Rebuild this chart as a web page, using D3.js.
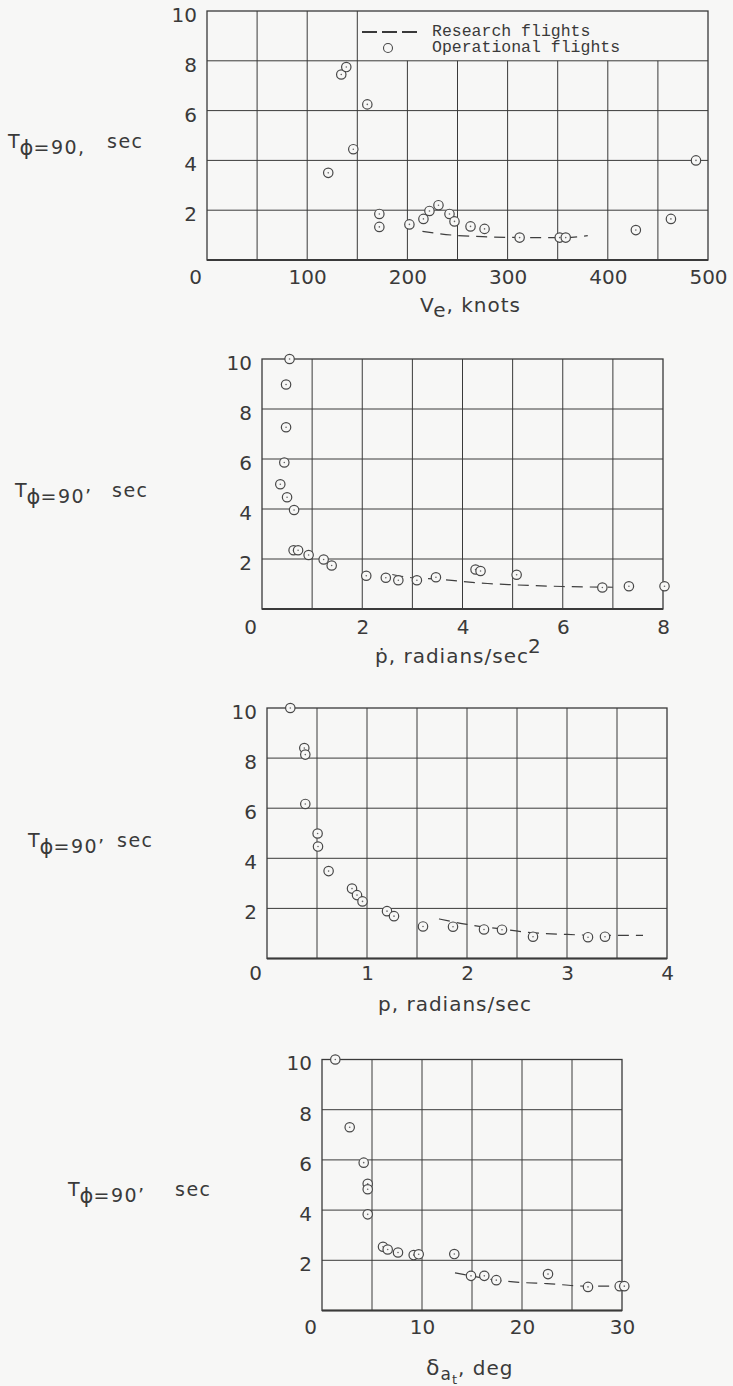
<!DOCTYPE html>
<html>
<head>
<meta charset="utf-8">
<script src="https://cdn.jsdelivr.net/npm/d3@7"></script>
<style>
  html, body { margin: 0; padding: 0; background: #f7f7f6; }
  svg { display: block; }
</style>
</head>
<body>
<svg id="chart" width="733" height="1386"></svg>
<script>
// Time to reach 90 deg of bank, plotted against four roll parameters.
// Each panel: operational-flight points and a faired research-flight curve.

// Equivalent airspeed, knots  vs  T(phi=90), sec
const veOperational = [
  [121, 3.5], [134, 7.45], [139, 7.75], [146, 4.45], [160, 6.25],
  [172, 1.85], [172, 1.33], [202, 1.43], [216, 1.65], [222, 1.97],
  [231, 2.2], [242, 1.85], [247, 1.55], [263, 1.35], [277, 1.25],
  [312, 0.9], [352, 0.9], [358, 0.9], [428, 1.2], [463, 1.65], [488, 4.0]
];
const veResearch = [[215, 1.15], [245, 1.0], [280, 0.93], [320, 0.9], [355, 0.9], [380, 0.98]];

// Roll acceleration, radians/sec^2
const pDotOperational = [
  [0.55, 10.0], [0.48, 8.98], [0.48, 7.27], [0.445, 5.86], [0.365, 4.99],
  [0.50, 4.47], [0.64, 3.96], [0.63, 2.35], [0.72, 2.35], [0.93, 2.16],
  [1.23, 1.98], [1.39, 1.74], [2.08, 1.33], [2.47, 1.25], [2.72, 1.15],
  [3.09, 1.15], [3.47, 1.27], [4.26, 1.58], [4.36, 1.52], [5.08, 1.37],
  [6.79, 0.86], [7.32, 0.91], [8.03, 0.91]
];
const pDotResearch = [[2.6, 1.38], [3.0, 1.25], [3.5, 1.2], [4.0, 1.1], [4.5, 1.02], [5.0, 0.97], [6.0, 0.9], [7.0, 0.87]];

// Roll rate, radians/sec
const pOperational = [
  [0.233, 10.0], [0.373, 8.4], [0.383, 8.14], [0.383, 6.17], [0.506, 4.99],
  [0.51, 4.47], [0.616, 3.49], [0.85, 2.79], [0.90, 2.53], [0.955, 2.28],
  [1.20, 1.89], [1.27, 1.69], [1.56, 1.28], [1.86, 1.27], [2.17, 1.16],
  [2.35, 1.15], [2.66, 0.87], [3.21, 0.85], [3.38, 0.87]
];
const pResearch = [[1.72, 1.58], [2.0, 1.36], [2.3, 1.2], [2.6, 1.05], [3.0, 0.96], [3.4, 0.92], [3.76, 0.92]];

// Total aileron deflection, deg
const deltaOperational = [
  [1.33, 10.0], [2.77, 7.3], [4.17, 5.89], [4.57, 5.05], [4.57, 4.83],
  [4.57, 3.83], [6.1, 2.54], [6.57, 2.43], [7.6, 2.31], [9.17, 2.21],
  [9.67, 2.24], [13.23, 2.25], [14.9, 1.38], [16.23, 1.38], [17.43, 1.21],
  [22.6, 1.45], [26.6, 0.94], [29.77, 0.97], [30.23, 0.97]
];
const deltaResearch = [[13.3, 1.5], [14.9, 1.38], [17.2, 1.22], [19.8, 1.12], [22.5, 1.07], [26.6, 0.97], [30.2, 0.97]];

// Tick labels and grid spacing
const timeTicks = [2, 4, 6, 8, 10];
const timeGrid = [2, 4, 6, 8];
const veTicks = [0, 100, 200, 300, 400, 500];
const veGrid = [50, 100, 150, 200, 250, 300, 350, 400, 450];
const pDotTicks = [0, 2, 4, 6, 8];
const pDotGrid = [1, 2, 3, 4, 5, 6, 7];
const pTicks = [0, 1, 2, 3, 4];
const pGrid = [0.5, 1, 1.5, 2, 2.5, 3, 3.5];
const deltaTicks = [0, 10, 20, 30];
const deltaGrid = [5, 10, 15, 20, 25];
const legendLabels = ["Research flights", "Operational flights"];

const BG = "#f7f7f6";
const INK = "#3a3a3a";
const FONT = "'DejaVu Sans', Verdana, sans-serif";
const svg = d3.select("#chart");

const panels = [
  { ops: veOperational, res: veResearch, xMax: 500, xTicks: veTicks, xGrid: veGrid,
    x0: 207, x1: 708, yTop: 11, yBot: 260, pad: 9.5, legend: true },
  { ops: pDotOperational, res: pDotResearch, xMax: 8, xTicks: pDotTicks, xGrid: pDotGrid,
    x0: 262, x1: 663, yTop: 359, yBot: 609, pad: 11 },
  { ops: pOperational, res: pResearch, xMax: 4, xTicks: pTicks, xGrid: pGrid,
    x0: 267, x1: 667, yTop: 708, yBot: 958.5, pad: 7 },
  { ops: deltaOperational, res: deltaResearch, xMax: 30, xTicks: deltaTicks, xGrid: deltaGrid,
    x0: 322, x1: 622, yTop: 1059.5, yBot: 1310.5, pad: 9 }
];

panels.forEach(p => {
  const x = d3.scaleLinear().domain([0, p.xMax]).range([p.x0, p.x1]);
  const y = d3.scaleLinear().domain([0, 10]).range([p.yBot, p.yTop]);
  const g = svg.append("g");

  // grid
  g.selectAll("line.h").data(timeGrid).join("line")
    .attr("x1", x(0)).attr("x2", x(p.xMax))
    .attr("y1", d => y(d)).attr("y2", d => y(d))
    .attr("stroke", INK).attr("stroke-width", 1);
  g.selectAll("line.v").data(p.xGrid).join("line")
    .attr("x1", d => x(d)).attr("x2", d => x(d))
    .attr("y1", d => (p.legend && d > 150) ? y(8) : y(10))
    .attr("y2", y(0))
    .attr("stroke", INK).attr("stroke-width", 1);

  // frame
  g.append("rect")
    .attr("x", x(0)).attr("y", y(10))
    .attr("width", x(p.xMax) - x(0)).attr("height", y(0) - y(10))
    .attr("fill", "none").attr("stroke", INK).attr("stroke-width", 1.3);
  g.append("line")
    .attr("x1", x(0)).attr("x2", x(p.xMax)).attr("y1", y(0)).attr("y2", y(0))
    .attr("stroke", INK).attr("stroke-width", 2);

  // research curve
  g.append("path")
    .datum(p.res)
    .attr("d", d3.line().x(d => x(d[0])).y(d => y(d[1])).curve(d3.curveMonotoneX))
    .attr("fill", "none").attr("stroke", "#3f3f3f").attr("stroke-width", 1.2)
    .attr("stroke-dasharray", "11,7");

  // operational points
  const pts = g.selectAll("g.pt").data(p.ops).join("g")
    .attr("transform", d => `translate(${x(d[0])},${y(d[1])})`);
  pts.append("circle").attr("r", 4.7)
    .attr("fill", BG).attr("stroke", "#484848").attr("stroke-width", 1.2);
  pts.append("circle").attr("r", 0.8).attr("fill", "#666");

  // axes
  const xa = g.append("g").attr("transform", `translate(0,${y(0)})`)
    .call(d3.axisBottom(x).tickValues(p.xTicks).tickSize(0).tickPadding(p.pad).tickFormat(d3.format("d")));
  const ya = g.append("g").attr("transform", `translate(${x(0)},0)`)
    .call(d3.axisLeft(y).tickValues(timeTicks).tickSize(0).tickPadding(10).tickFormat(d3.format("d")));
  [xa, ya].forEach(a => {
    a.select(".domain").remove();
    a.selectAll("text").attr("font-family", FONT).attr("font-size", 20).attr("fill", INK);
  });
  ya.selectAll("text").attr("dy", "0.52em");
  xa.selectAll(".tick").filter(d => d === 0).select("text").attr("x", -12);

  if (p.legend) {
    const lg = g.append("g");
    lg.append("line").attr("x1", 362).attr("x2", 417).attr("y1", 32).attr("y2", 32)
      .attr("stroke", INK).attr("stroke-width", 2).attr("stroke-dasharray", "15,5");
    lg.append("circle").attr("cx", 388).attr("cy", 48).attr("r", 4.5)
      .attr("fill", "none").attr("stroke", "#484848").attr("stroke-width", 1.1);
    lg.selectAll("text").data(legendLabels).join("text")
      .attr("x", 432).attr("y", (d, i) => 36 + i * 16.3)
      .attr("font-family", "'Liberation Mono', 'Courier New', monospace")
      .attr("font-size", 16.5).attr("fill", INK).text(d => d);
  }
});

// ordinate titles: T with subscript phi=90, then ", sec"
const yTitles = [
  { x: 8, y: 148, sep: ",", secX: 107 },
  { x: 15, y: 497, sep: "’", secX: 112 },
  { x: 28, y: 847, sep: "’", secX: 117 },
  { x: 68, y: 1196, sep: "’", secX: 175 }
];
yTitles.forEach(t => {
  const tx = svg.append("text").attr("x", t.x).attr("y", t.y)
    .attr("font-family", FONT).attr("font-size", 19).attr("fill", INK);
  tx.append("tspan").text("T");
  tx.append("tspan").attr("dy", 7).attr("font-size", 21).text("ϕ");
  tx.append("tspan").attr("dy", -1).attr("letter-spacing", 1.5).text("=90" + t.sep);
  tx.append("tspan").attr("x", t.secX).attr("dy", -6).attr("letter-spacing", 1.5).text("sec");
});

// abscissa titles
const t1 = svg.append("text").attr("x", 420).attr("y", 311.5)
  .attr("font-family", FONT).attr("font-size", 20).attr("fill", INK)
  .attr("letter-spacing", 1);
t1.append("tspan").text("V");
t1.append("tspan").attr("dy", 5).text("e");
t1.append("tspan").attr("dy", -5).text(", knots");

const t2 = svg.append("text").attr("x", 375).attr("y", 663)
  .attr("font-family", FONT).attr("font-size", 20).attr("fill", INK)
  .attr("letter-spacing", 1);
t2.append("tspan").text("ṗ, radians/sec");
t2.append("tspan").attr("dx", -1).attr("dy", -10).text("2");

svg.append("text").attr("x", 378).attr("y", 1010.5)
  .attr("font-family", FONT).attr("font-size", 20).attr("fill", INK)
  .attr("letter-spacing", 1)
  .text("p, radians/sec");

const t4 = svg.append("text").attr("x", 426).attr("y", 1375)
  .attr("font-family", FONT).attr("font-size", 20).attr("fill", INK)
  .attr("letter-spacing", 1);
t4.append("tspan").attr("font-size", 22).text("δ");
t4.append("tspan").attr("dy", 5).attr("font-size", 17).text("a");
t4.append("tspan").attr("dy", 4).attr("font-size", 13).text("t");
t4.append("tspan").attr("dy", -9).text(", deg");
</script>
</body>
</html>
